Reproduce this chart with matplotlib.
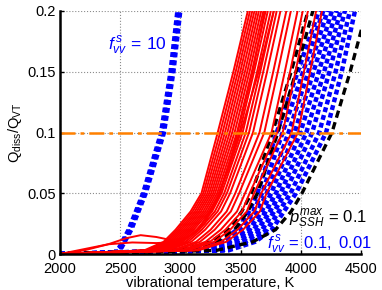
import matplotlib.pyplot as plt
import numpy as np

plt.rcParams['font.family'] = 'Liberation Sans'
plt.rcParams['mathtext.fontset'] = 'custom'
plt.rcParams['mathtext.rm'] = 'Liberation Sans'
plt.rcParams['mathtext.it'] = 'Liberation Sans:italic'

# Q_diss/Q_VT levels at which the temperature of each curve was read
q_levels = [0.0, 0.003, 0.01, 0.02, 0.035, 0.05, 0.1, 0.15, 0.2, 0.25]

# red solid curves: temperature (K) at each level
red_t0 = [2000] * 21
red_t003 = [2700, 2714, 2727, 2741, 2754, 2768, 2781, 2795, 2808, 2822, 2840,
            2858, 2876, 2898, 2934, 2961, 3002, 3033, 3065, 3114, 3150]
red_t01 = [2860, 2876, 2891, 2907, 2922, 2938, 2954, 2969, 2985, 3000, 3021,
           3042, 3063, 3089, 3130, 3162, 3208, 3245, 3281, 3338, 3380]
red_t02 = [2960, 2977, 2994, 3010, 3027, 3044, 3061, 3078, 3094, 3111, 3134,
           3156, 3178, 3206, 3251, 3285, 3335, 3374, 3414, 3475, 3520]
red_t035 = [3085, 3102, 3120, 3137, 3154, 3171, 3189, 3206, 3223, 3240, 3263,
            3286, 3309, 3338, 3384, 3419, 3470, 3511, 3551, 3614, 3660]
red_t05 = [3175, 3191, 3207, 3224, 3240, 3256, 3272, 3288, 3305, 3321, 3342,
           3364, 3386, 3413, 3456, 3488, 3537, 3575, 3612, 3672, 3715]
red_t10 = [3310, 3330, 3350, 3370, 3390, 3410, 3430, 3450, 3470, 3490, 3517,
           3543, 3570, 3603, 3657, 3697, 3757, 3804, 3850, 3924, 3977]
red_t15 = [3440, 3459, 3478, 3497, 3516, 3536, 3555, 3574, 3593, 3612, 3637,
           3663, 3688, 3720, 3771, 3809, 3867, 3911, 3956, 4026, 4077]
red_t20 = [3560, 3578, 3597, 3615, 3634, 3652, 3671, 3689, 3708, 3726, 3751,
           3776, 3800, 3831, 3880, 3917, 3973, 4016, 4059, 4127, 4176]
red_t25 = [3680, 3698, 3716, 3734, 3752, 3769, 3787, 3805, 3823, 3841, 3865,
           3889, 3912, 3942, 3990, 4026, 4079, 4121, 4163, 4228, 4276]

# two red curves with a low-temperature hump
hump1_t = [2000, 2200, 2400, 2550, 2670, 2800, 2920, 3050, 3200, 3330, 3450, 3600, 3720]
hump1_q = [0, 0.003, 0.008, 0.013, 0.0155, 0.014, 0.0115, 0.013, 0.025, 0.05, 0.09, 0.15, 0.21]
hump2_t = [2000, 2200, 2400, 2600, 2800, 3000, 3150, 3300, 3400, 3500, 3650, 3800]
hump2_q = [0, 0.004, 0.008, 0.0095, 0.009, 0.01, 0.02, 0.045, 0.07, 0.1, 0.15, 0.21]

# blue dotted curves, f_vv^s = 0.1, 0.01
blue_t0 = [2000] * 9
blue_t003 = [3050, 3092, 3134, 3176, 3218, 3260, 3302, 3351, 3400]
blue_t01 = [3340, 3374, 3407, 3441, 3474, 3508, 3542, 3581, 3620]
blue_t02 = [3470, 3505, 3540, 3574, 3609, 3644, 3679, 3719, 3760]
blue_t035 = [3570, 3605, 3640, 3674, 3709, 3744, 3779, 3819, 3860]
blue_t05 = [3640, 3678, 3717, 3755, 3794, 3832, 3870, 3915, 3960]
blue_t10 = [3800, 3849, 3898, 3948, 3997, 4046, 4095, 4153, 4210]
blue_t15 = [3975, 4019, 4063, 4106, 4150, 4194, 4238, 4289, 4340]
blue_t20 = [4150, 4186, 4222, 4258, 4294, 4330, 4366, 4408, 4450]
blue_t25 = [4290, 4321, 4352, 4384, 4415, 4446, 4477, 4514, 4550]

# black dashed curves, p_SSH^max = 0.1
black_t0 = [2000, 2000, 2000]
black_t003 = [3000, 3050, 3300]
black_t01 = [3250, 3300, 3600]
black_t02 = [3400, 3450, 3790]
black_t035 = [3510, 3560, 3920]
black_t05 = [3590, 3640, 4010]
black_t10 = [3765, 3810, 4259]
black_t15 = [3920, 3960, 4410]
black_t20 = [4060, 4100, 4545]
black_t25 = [4200, 4235, 4650]

# blue dotted band, f_vv^s = 10
f10_levels = [0.0, 0.005, 0.02, 0.05, 0.1, 0.15, 0.2, 0.25]
f10_t = [[2440, 2490, 2570, 2690, 2840, 2918, 2975, 3020],
         [2450, 2500, 2580, 2700, 2852, 2930, 2987, 3032],
         [2460, 2510, 2592, 2712, 2864, 2942, 2999, 3044]]

threshold = 0.1

fig = plt.figure(figsize=(3.82, 2.9), dpi=100)
ax = fig.add_axes([60 / 382, 36 / 290, 301 / 382, 243 / 290])

dot = (0, (1.1, 0.7))
for row in f10_t:
    ax.plot(row, f10_levels, color='#0000ff', lw=3.2, linestyle=dot)

blue = np.array([blue_t0, blue_t003, blue_t01, blue_t02, blue_t035, blue_t05,
                 blue_t10, blue_t15, blue_t20, blue_t25])
for i in range(blue.shape[1]):
    ax.plot(blue[:, i], q_levels, color='#0000ff', lw=3.2, linestyle=dot)

black = np.array([black_t0, black_t003, black_t01, black_t02, black_t035, black_t05,
                  black_t10, black_t15, black_t20, black_t25])
for i in range(black.shape[1]):
    ax.plot(black[:, i], q_levels, color='black', lw=2.4, linestyle=(0, (2.2, 1.4)))

red = np.array([red_t0, red_t003, red_t01, red_t02, red_t035, red_t05,
                red_t10, red_t15, red_t20, red_t25])
for i in range(red.shape[1]):
    ax.plot(red[:, i], q_levels, color='red', lw=1.4)
ax.plot(hump1_t, hump1_q, color='red', lw=1.4)
ax.plot(hump2_t, hump2_q, color='red', lw=1.4)

ax.axhline(threshold, color='#ff8000', lw=1.8, linestyle=(0, (6, 2, 1.5, 2)))

ax.text(2400, 0.168, r'$\mathit{f^{\,s}_{vv}\,{=}\,10}$', color='#0000ff', fontsize=12.5)
ax.text(3905, 0.026, r'$\mathit{p^{max}_{SSH}\,{=}\,0.1}$', color='black', fontsize=12)
ax.text(3720, 0.004, r'$\mathit{f^{\,s}_{vv}\,{=}\,0.1,\ 0.01}$', color='#0000ff', fontsize=12)

ax.set_xlim(2000, 4500)
ax.set_ylim(0, 0.2)
ax.set_xticks([2000, 2500, 3000, 3500, 4000, 4500])
ax.set_yticks([0, 0.05, 0.1, 0.15, 0.2])
ax.set_yticklabels(['0', '0.05', '0.1', '0.15', '0.2'])
ax.tick_params(direction='in', length=3, width=1, labelsize=10.5, pad=3)
ax.tick_params(axis='x', pad=6)
ax.grid(True, linestyle=':', color='0.55', lw=0.8)
ax.set_axisbelow(True)
for s in ['top', 'right']:
    ax.spines[s].set_visible(False)
for s in ['left', 'bottom']:
    ax.spines[s].set_linewidth(1.8)

ax.set_xlabel('vibrational temperature, K', fontsize=10.5, labelpad=0)
ax.set_ylabel(r'Q$_{\rm diss}$/Q$_{\rm VT}$', fontsize=10.5, labelpad=2)

fig.savefig('out.png', dpi=100)
